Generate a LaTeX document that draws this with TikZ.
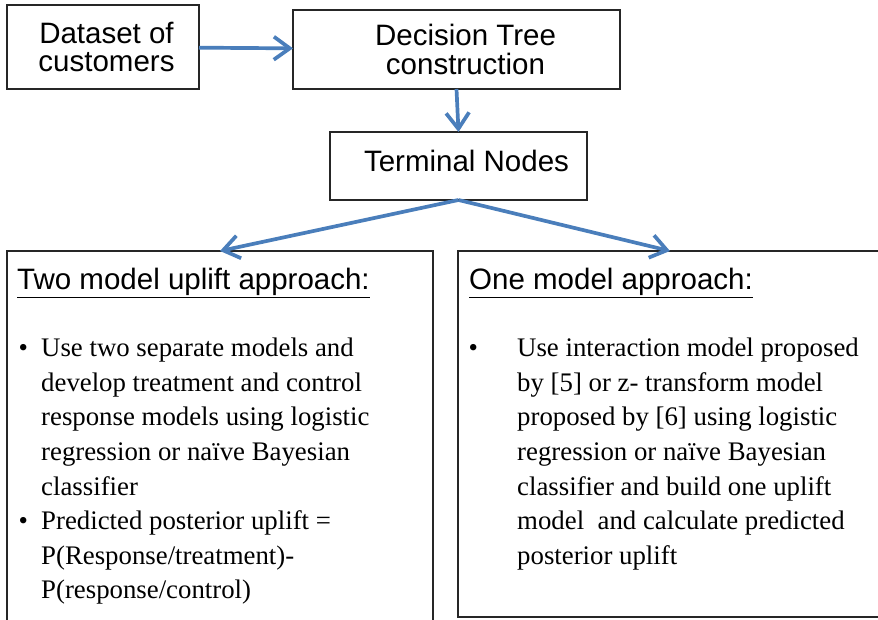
\documentclass[tikz,border=0pt]{standalone}
\usepackage{fontspec}
\setmainfont{Liberation Serif}
\setsansfont{Liberation Sans}
\usetikzlibrary{arrows.meta}
\usetikzlibrary{positioning}
\definecolor{flowblue}{HTML}{4A7EBB}
\tikzset{%
    box/.style={inner sep=0pt,outer sep=0pt,shape=rectangle,draw=black!85,line width=1.2pt,align=center,font=\sffamily\fontsize{29.5}{28.5}\selectfont},
    panel/.style={inner sep=0pt,outer sep=0pt,shape=rectangle,draw=black!85,line width=1.2pt},
    flow/.style={-{Straight Barb[length=16pt,width=23pt]},line width=3.7pt,draw=flowblue},
    heading/.style={inner sep=0pt,anchor=base west,font=\sffamily\fontsize{29.5}{34}\selectfont},
    itemtext/.style={inner sep=0pt,anchor=north west,align=left,font=\fontsize{26.8}{34.6}\selectfont},
}

\begin{document}
\begin{tikzpicture}[x=1pt,y=-1pt]
        \useasboundingbox (0,0) rectangle (878,620);

        \node[box,minimum width=192pt,minimum height=84pt] (data) at (103,47) {\hspace*{7pt}Dataset of\\\hspace*{7pt}customers};
        \node[box,minimum width=327pt,minimum height=79pt] (tree) at (456.5,49.5) {\hspace*{18pt}Decision Tree\\\hspace*{18pt}construction};
        \node[box,minimum width=257pt,minimum height=68pt,text depth=11pt] (terminal) at (458.5,166) {\hspace*{16pt}Terminal Nodes};

        \node[panel,minimum width=426pt,minimum height=380pt] (twobox) at (220,441) {};
        \node[panel,minimum width=424pt,minimum height=366pt] (onebox) at (670,434) {};

        \draw[flow] (data) -- (tree);
        \draw[flow] (tree.south) -- (terminal.north);
        \draw[flow] (terminal.south) -- (twobox.north);
        \draw[flow] (terminal.south) -- (onebox.north);

        \node[heading] (twohead) at (17,290) {\underline{Two model uplift approach:}};
        \node[heading] (onehead) at (469,290) {\underline{One model approach:}};

        \node[itemtext] (twolist) at (41,338) {\llap{\textbullet\hspace{13.3pt}}Use two separate models and\\
            develop treatment and control\\
            response models using logistic\\
            regression or naïve Bayesian\\
            classifier\\
            \llap{\textbullet\hspace{13.3pt}}Predicted posterior uplift =\\
            P(Response/treatment)-\\
            P(response/control)};
        \node[itemtext] (onelist) at (517,338) {\llap{\textbullet\hspace{39.3pt}}Use interaction model proposed\\
            by [5] or z- transform model\\
            proposed by [6] using logistic\\
            regression or naïve Bayesian\\
            classifier and build one uplift\\
            model~ and calculate predicted\\
            posterior uplift};
      \end{tikzpicture}
\end{document}
